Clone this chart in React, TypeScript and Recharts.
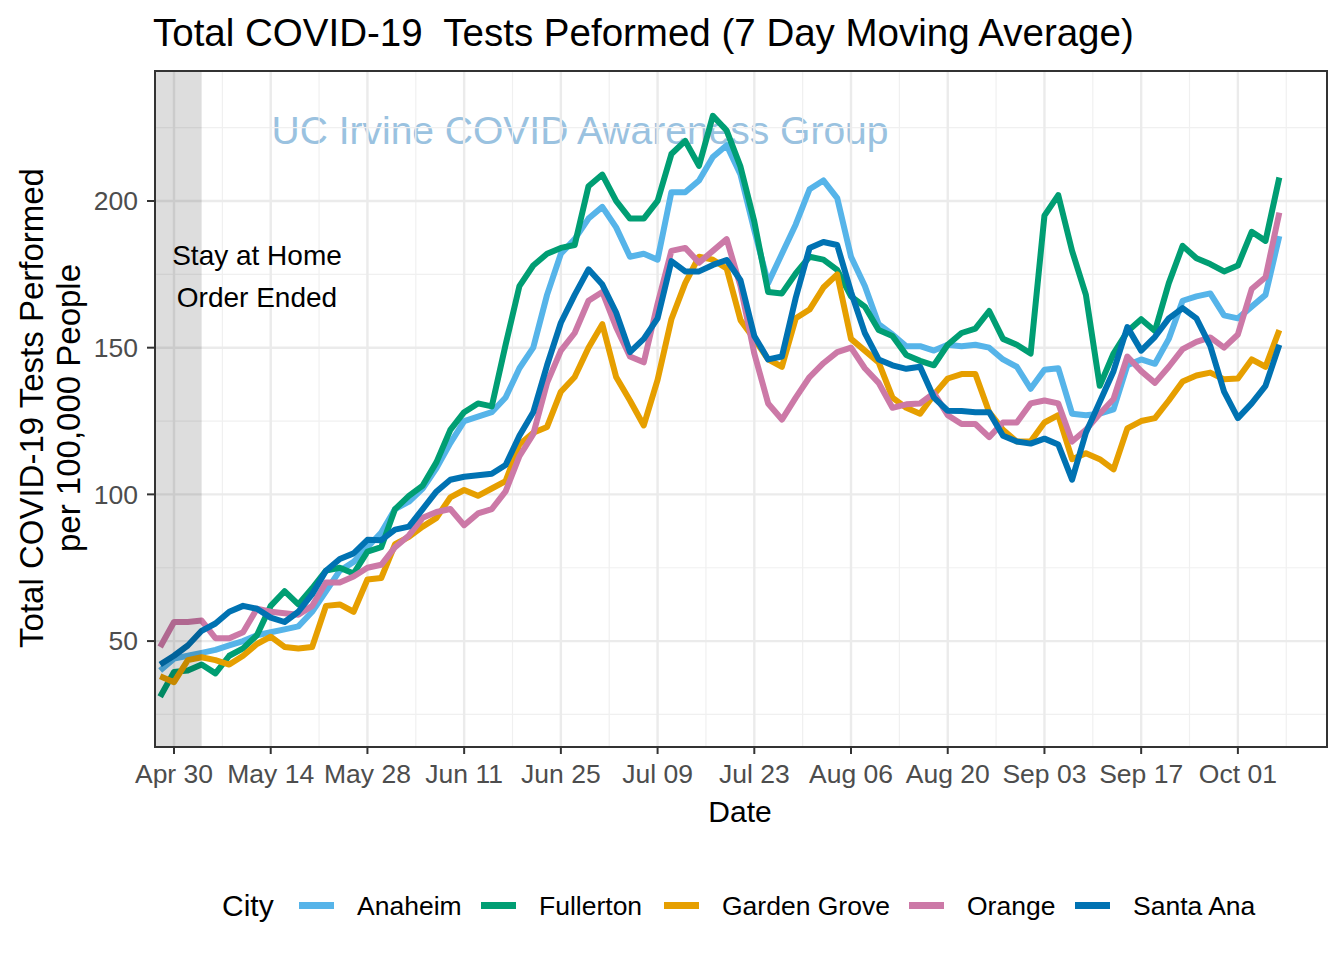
import React from "react";
import {
  LineChart,
  Line,
  XAxis,
  YAxis,
  CartesianGrid,
  ReferenceArea,
} from "recharts";

const DATES = [
  "2020-04-28", "2020-04-30", "2020-05-02", "2020-05-04", "2020-05-06", "2020-05-08",
  "2020-05-10", "2020-05-12", "2020-05-14", "2020-05-16", "2020-05-18", "2020-05-20",
  "2020-05-22", "2020-05-24", "2020-05-26", "2020-05-28", "2020-05-30", "2020-06-01",
  "2020-06-03", "2020-06-05", "2020-06-07", "2020-06-09", "2020-06-11", "2020-06-13",
  "2020-06-15", "2020-06-17", "2020-06-19", "2020-06-21", "2020-06-23", "2020-06-25",
  "2020-06-27", "2020-06-29", "2020-07-01", "2020-07-03", "2020-07-05", "2020-07-07",
  "2020-07-09", "2020-07-11", "2020-07-13", "2020-07-15", "2020-07-17", "2020-07-19",
  "2020-07-21", "2020-07-23", "2020-07-25", "2020-07-27", "2020-07-29", "2020-07-31",
  "2020-08-02", "2020-08-04", "2020-08-06", "2020-08-08", "2020-08-10", "2020-08-12",
  "2020-08-14", "2020-08-16", "2020-08-18", "2020-08-20", "2020-08-22", "2020-08-24",
  "2020-08-26", "2020-08-28", "2020-08-30", "2020-09-01", "2020-09-03", "2020-09-05",
  "2020-09-07", "2020-09-09", "2020-09-11", "2020-09-13", "2020-09-15", "2020-09-17",
  "2020-09-19", "2020-09-21", "2020-09-23", "2020-09-25", "2020-09-27", "2020-09-29",
  "2020-10-01", "2020-10-03", "2020-10-05", "2020-10-07",
];

const ANAHEIM = [
  40, 44, 45, 46, 47, 48.5, 50, 52, 53, 54, 55, 60, 67, 74, 77, 82, 87, 95, 97.5, 102,
  109, 117.5, 125, 126.5, 128, 133, 143, 150, 168, 182, 187, 194, 198, 191, 181, 182,
  180, 203, 203, 207, 215, 219, 209, 190, 172, 182, 192, 204, 207, 201, 181, 171, 158,
  154.5, 150.5, 150.5, 149, 151, 150.5, 151, 150, 146, 143.5, 136, 142.5, 143, 127.5,
  127, 127.5, 129, 144, 146, 144.5, 153, 166, 167.5, 168.5, 161, 160, 164, 168, 188,
];

const FULLERTON = [
  31, 39.5, 40, 42, 39, 45, 47.5, 52, 62, 67, 62.5, 68, 74, 75, 73, 80.5, 82, 95, 99.5,
  103, 111, 122, 128, 131, 130, 151, 171, 178, 182, 184, 185, 205, 209, 200, 194, 194,
  200, 216, 220.5, 212, 229, 224, 211.7, 193, 169, 168.5, 175.3, 181, 180, 176.5, 167.5,
  164, 156, 154, 147.5, 145.5, 144, 151, 155, 156.5, 162.5, 153, 151, 148, 195, 202,
  183, 168, 137, 148, 155.5, 159.7, 155.7, 172, 184.7, 180.5, 178.5, 176, 178, 189.5,
  186.4, 208,
];

const GARDEN_GROVE = [
  38, 36, 43.5, 44.5, 43.5, 42, 45, 49, 51.5, 48, 47.5, 48, 62, 62.5, 60, 71, 71.5, 83,
  85.5, 89, 92, 99, 101.5, 99.5, 102, 104.5, 117, 121, 123, 135, 140, 150, 158, 140, 132,
  123.5, 139, 159.7, 172, 181, 180, 177, 159.4, 153, 146, 143.5, 160, 163, 170.5, 175,
  153, 149, 145, 133, 129.5, 127.5, 134, 139.5, 141, 141, 128, 122, 118, 118, 124.5, 127,
  112, 114, 112, 108.5, 122.5, 125, 126, 132, 138.5, 140.5, 141.5, 139.2, 139.5, 146,
  143.5, 156,
];

const ORANGE = [
  48, 56.5, 56.5, 57, 51, 51, 53, 61, 60, 59.5, 59, 62, 70, 70, 72, 75, 76, 82, 86, 92,
  94, 95, 89.5, 93.5, 95, 101, 113, 120.5, 138, 149, 155, 166, 169, 157, 147, 145, 165,
  183, 184, 179, 183, 187, 171, 148, 131, 125.5, 133, 140, 144.7, 148.5, 150, 143, 138,
  129.5, 130.7, 131, 134.5, 127, 124, 124, 119.5, 124.5, 124.5, 131, 132, 131, 118, 122,
  127.5, 132.5, 147, 142, 138, 143.5, 149.5, 152, 153.5, 150, 154.5, 170, 174, 196,
];

const SANTA_ANA = [
  42, 45, 48.5, 53.5, 56, 60, 62, 61, 58, 56.5, 60, 66, 74, 78, 79.9, 84.5, 84.4, 88, 89,
  95, 101, 105, 106, 106.5, 107, 110, 120, 128, 144, 158.5, 168, 176.7, 171.5, 162,
  148.5, 153, 160, 179.5, 176, 176, 178.2, 179.9, 173, 154, 146, 147, 167, 184, 186, 185,
  169, 155, 146, 144, 142.8, 143.5, 133, 128.5, 128.4, 128, 128, 120, 118, 117.3, 119,
  117, 105, 121, 131.5, 142, 157, 149, 153.7, 160, 163.5, 160, 150.6, 135, 126, 131, 137,
  151,
];

const CITIES = ["Anaheim", "Fullerton", "Garden Grove", "Orange", "Santa Ana"];
const COLORS = ["#56B4E9", "#009E73", "#E69F00", "#CC79A7", "#0072B2"];
const SERIES = [ANAHEIM, FULLERTON, GARDEN_GROVE, ORANGE, SANTA_ANA];

const TICK_DATES = [
  "2020-04-30", "2020-05-14", "2020-05-28", "2020-06-11", "2020-06-25", "2020-07-09",
  "2020-07-23", "2020-08-06", "2020-08-20", "2020-09-03", "2020-09-17", "2020-10-01",
];
const TICK_LABELS = [
  "Apr 30", "May 14", "May 28", "Jun 11", "Jun 25", "Jul 09",
  "Jul 23", "Aug 06", "Aug 20", "Sep 03", "Sep 17", "Oct 01",
];
const Y_TICKS = [50, 100, 150, 200];
const Y_MINOR = [25, 75, 125, 175, 225];
const STAY_HOME_END = "2020-05-04";

const ORIGIN = Date.parse("2020-04-30");
const dayOf = (d: string) => (Date.parse(d) - ORIGIN) / 86400000;

const X_DOMAIN: [number, number] = [-2.75, 166.9];
const Y_DOMAIN: [number, number] = [13.9, 244.3];

const FONT = "'Liberation Sans', Arial, sans-serif";

const rows = DATES.map((d, i) => {
  const row: Record<string, number> = { x: dayOf(d) };
  CITIES.forEach((c, k) => {
    row[c] = SERIES[k][i];
  });
  return row;
});

const xTicks = TICK_DATES.map(dayOf);
const xMinor = xTicks.map((t) => t + 7);
const tickLabel = (v: number) => TICK_LABELS[xTicks.indexOf(v)] ?? "";

// legend label x positions (layout only)
const LEGEND_X = [357, 539, 722, 967, 1133];

const layer: React.CSSProperties = { position: "absolute", left: 0, top: 0 };

export default function App() {
  return (
    <div
      style={{
        position: "absolute",
        left: 0,
        top: 0,
        width: 1344,
        height: 960,
        background: "#fff",
        fontFamily: FONT,
      }}
    >
      {/* watermark sits under the chart */}
      <svg width={1344} height={960} style={layer}>
        <text x={580} y={144} textAnchor="middle" fontSize={39} fill="#9ac2e0" fontFamily={FONT}>
          UC Irvine COVID Awareness Group
        </text>
      </svg>

      <div style={layer}>
        <LineChart
          width={1344}
          height={960}
          data={rows}
          margin={{ top: 71, right: 17, bottom: 173, left: 95 }}
        >
          <CartesianGrid
            stroke="#F0F0F0"
            strokeWidth={1.2}
            horizontalValues={Y_MINOR}
            verticalValues={xMinor}
          />
          <CartesianGrid
            stroke="#EBEBEB"
            strokeWidth={2.4}
            horizontalValues={Y_TICKS}
            verticalValues={xTicks}
          />
          <XAxis
            dataKey="x"
            type="number"
            domain={X_DOMAIN}
            allowDataOverflow
            ticks={xTicks}
            interval={0}
            tickFormatter={tickLabel}
            tick={{ fontSize: 26.5, fill: "#4D4D4D", fontFamily: FONT }}
            tickLine={{ stroke: "#333", strokeWidth: 2 }}
            tickSize={7}
            tickMargin={10}
            axisLine={false}
            height={40}
          />
          <YAxis
            type="number"
            domain={Y_DOMAIN}
            allowDataOverflow
            ticks={Y_TICKS}
            interval={0}
            tick={{ fontSize: 26.5, fill: "#4D4D4D", fontFamily: FONT }}
            tickLine={{ stroke: "#333", strokeWidth: 2 }}
            tickSize={8}
            tickMargin={9}
            axisLine={false}
            width={60}
          />
          {CITIES.map((c, k) => (
            <Line
              key={c}
              dataKey={c}
              type="linear"
              stroke={COLORS[k]}
              strokeWidth={6}
              strokeLinejoin="round"
              dot={false}
              activeDot={false}
              isAnimationActive={false}
            />
          ))}
        </LineChart>
      </div>

      {/* shading and panel border on top of the lines, same scales */}
      <div style={{ ...layer, pointerEvents: "none" }}>
        <LineChart
          width={1344}
          height={960}
          data={rows}
          margin={{ top: 71, right: 17, bottom: 213, left: 155 }}
        >
          <XAxis dataKey="x" type="number" domain={X_DOMAIN} allowDataOverflow hide />
          <YAxis type="number" domain={Y_DOMAIN} allowDataOverflow hide />
          <ReferenceArea
            x1={X_DOMAIN[0]}
            x2={dayOf(STAY_HOME_END)}
            fill="#000"
            fillOpacity={0.135}
            stroke="none"
          />
          <ReferenceArea
            x1={X_DOMAIN[0]}
            x2={X_DOMAIN[1]}
            y1={Y_DOMAIN[0]}
            y2={Y_DOMAIN[1]}
            fill="none"
            stroke="#333"
            strokeWidth={2}
          />
        </LineChart>
      </div>

      {/* titles, annotation and legend */}
      <svg width={1344} height={960} style={{ ...layer, pointerEvents: "none" }} fontFamily={FONT}>
        <text x={153} y={46} fontSize={38.5} fill="#000" style={{ whiteSpace: "pre" }}>
          {"Total COVID-19  Tests Peformed (7 Day Moving Average)"}
        </text>
        <text x={257} y={265} textAnchor="middle" fontSize={28} fill="#000">
          Stay at Home
        </text>
        <text x={257} y={307} textAnchor="middle" fontSize={28} fill="#000">
          Order Ended
        </text>
        <g transform="translate(43,408) rotate(-90)">
          <text x={0} y={0} textAnchor="middle" fontSize={33} fill="#000">
            Total COVID-19 Tests Performed
          </text>
        </g>
        <g transform="translate(80,408) rotate(-90)">
          <text x={0} y={0} textAnchor="middle" fontSize={33} fill="#000">
            per 100,000 People
          </text>
        </g>
        <text x={740} y={822} textAnchor="middle" fontSize={30} fill="#000">
          Date
        </text>
        <text x={222} y={916} fontSize={30} fill="#000">
          City
        </text>
        {CITIES.map((c, k) => (
          <g key={c}>
            <rect x={LEGEND_X[k] - 58} y={902} width={35} height={7} fill={COLORS[k]} />
            <text x={LEGEND_X[k]} y={915} fontSize={26.5} fill="#000">
              {c}
            </text>
          </g>
        ))}
      </svg>
    </div>
  );
}
